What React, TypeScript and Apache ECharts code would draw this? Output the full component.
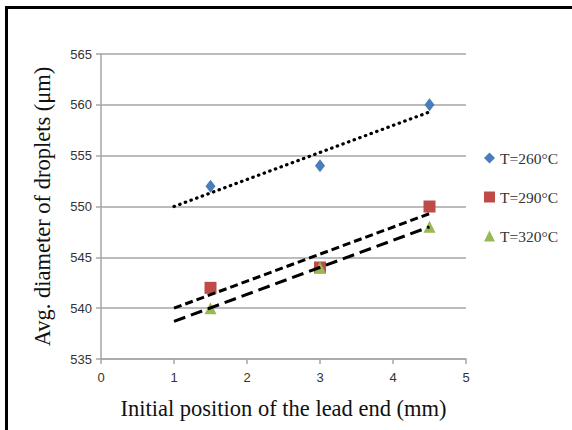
import React, { useEffect, useRef } from "react";
import * as echarts from "echarts";

const seriesNames = ["T=260°C", "T=290°C", "T=320°C"];
const positions = [1.5, 3, 4.5];
const values260 = [552, 554, 560];
const values290 = [542, 544, 550];
const values320 = [540, 544, 548];
const trend260 = [[1, 550.0], [4.5, 559.3]];
const trend290 = [[1, 540.0], [4.5, 549.3]];
const trend320 = [[1, 538.7], [4.5, 548.0]];
const xTicks = [0, 1, 2, 3, 4, 5];
const yTicks = [535, 540, 545, 550, 555, 560, 565];

const colors = ["#4a7ebb", "#be4b48", "#98b954"];
const symbols = ["diamond", "rect", "triangle"];
const symbolSizes: any[] = [[10, 13], 12, 12];

export default function App() {
  const ref = useRef<HTMLDivElement>(null);
  useEffect(() => {
    if (!ref.current) return;
    const chart = echarts.init(ref.current, null, { renderer: "svg" });
    const valueSets = [values260, values290, values320];
    const trends = [trend260, trend290, trend320];
    const dashes: any[] = [[0.5, 5.5], [8, 4], [12, 6]];
    const scatter = seriesNames.map((name, i) => ({
      type: "scatter",
      name,
      symbol: symbols[i],
      symbolSize: symbolSizes[i],
      itemStyle: { color: colors[i], opacity: 1 },
      data: positions.map((x, j) => [x, valueSets[i][j]]),
      z: 3,
    }));
    const lines = trends.map((t, i) => ({
      type: "line",
      name: "trend" + i,
      data: t,
      symbol: "none",
      lineStyle: {
        color: "#000",
        width: i === 0 ? 3.2 : 3,
        type: dashes[i],
        cap: i === 0 ? "round" : "butt",
      },
      z: 4,
      silent: true,
    }));
    chart.setOption({
      animation: false,
      grid: { left: 101, right: 106, top: 54, bottom: 71, containLabel: false },
      legend: {
        data: seriesNames.map((n, i) => ({ name: n, icon: symbols[i], itemStyle: { opacity: 1 } })),
        orient: "vertical",
        left: 479,
        top: 145,
        itemGap: 23,
        itemWidth: 11,
        itemHeight: 11,
        itemTextGap: 16,
        textStyle: { fontFamily: "Liberation Serif", fontSize: 15.5, color: "#333" },
      },
      xAxis: {
        type: "value",
        min: xTicks[0],
        max: xTicks[xTicks.length - 1],
        interval: 1,
        name: "Initial position of the lead end (mm)",
        nameLocation: "middle",
        nameGap: 38,
        nameTextStyle: { fontFamily: "Liberation Serif", fontSize: 22.5, color: "#111" },
        axisLine: { show: true, lineStyle: { color: "#a6a6a6", width: 1.5 } },
        axisTick: { show: true, length: 5, lineStyle: { color: "#a6a6a6", width: 1.5 } },
        axisLabel: { fontFamily: "Liberation Sans Narrow, Liberation Sans", fontSize: 13, color: "#333", margin: 12 },
        splitLine: { show: false },
      },
      yAxis: {
        type: "value",
        min: yTicks[0],
        max: yTicks[yTicks.length - 1],
        interval: 5,
        name: "Avg. diameter of droplets (μm)",
        nameLocation: "middle",
        nameGap: 47,
        nameTextStyle: { fontFamily: "Liberation Serif", fontSize: 22.5, color: "#111" },
        axisLine: { show: true, lineStyle: { color: "#a6a6a6", width: 1.5 } },
        axisTick: { show: true, length: 5, lineStyle: { color: "#a6a6a6", width: 1.5 } },
        axisLabel: { fontFamily: "Liberation Sans Narrow, Liberation Sans", fontSize: 13, color: "#333", margin: 9 },
        splitLine: { show: true, lineStyle: { color: "#a6a6a6", width: 1.5 } },
      },
      graphic: [
        {
          type: "rect",
          shape: { x: 6.5, y: 7.5, width: 700, height: 600 },
          style: { fill: "none", stroke: "#000", lineWidth: 3 },
          silent: true,
        },
      ],
      series: [...lines, ...scatter],
    });
    return () => chart.dispose();
  }, []);
  return (
    <div
      ref={ref}
      style={{ position: "fixed", left: 0, top: 0, width: 572, height: 430, background: "#fff" }}
    />
  );
}
